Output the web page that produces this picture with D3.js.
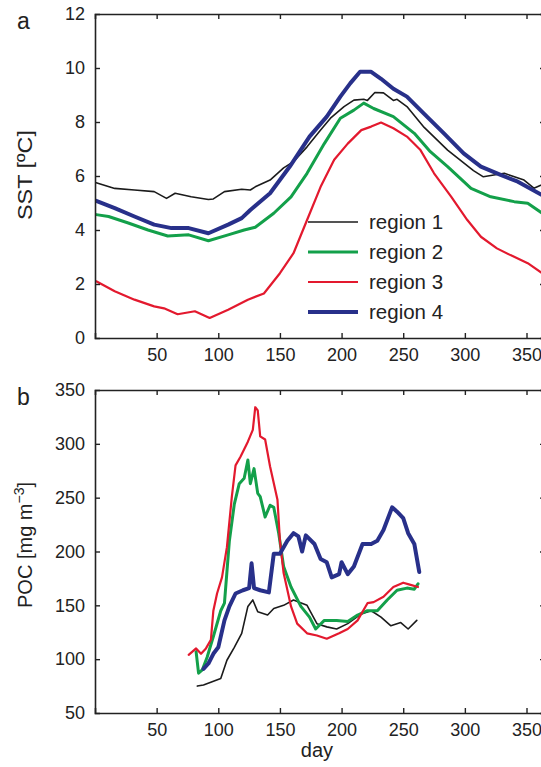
<!DOCTYPE html>
<html>
<head>
<meta charset="utf-8">
<script src="https://cdn.jsdelivr.net/npm/d3@7"></script>
<style>
html,body{margin:0;padding:0;background:#fff;}
svg{display:block;}
text{font-family:"Liberation Sans",Arial,Helvetica,sans-serif;fill:#222;}
</style>
</head>
<body>
<svg id="chart" width="541" height="767"></svg>
<script>
// ---------- DATA ----------
const xTicks = [50,100,150,200,250,300,350];
const sstTicks = [0,2,4,6,8,10,12];
const pocTicks = [50,100,150,200,250,300,350];
const seriesNames = ["region 1","region 2","region 3","region 4"];

// SST (panel a): [day, °C]
const sst1 = [[1,5.75],[16,5.54],[32,5.48],[48,5.42],[58,5.17],[65,5.36],[78,5.23],[92,5.13],[96,5.15],[105,5.42],[119,5.51],[126,5.48],[130,5.6],[142,5.85],[153,6.3],[161,6.53],[172,7.08],[183,7.7],[191,8.14],[202,8.57],[210,8.81],[218,8.84],[221,8.8],[227,9.09],[234,9.08],[242,8.8],[245,8.84],[253,8.57],[267,7.8],[286,6.96],[307,6.2],[315,5.97],[332,6.1],[348,5.85],[356,5.55],[365,5.73]];
const sst2 = [[1,4.57],[11,4.5],[27,4.26],[43,4.0],[59,3.78],[76,3.82],[92,3.6],[108,3.82],[121,4.0],[130,4.1],[145,4.62],[159,5.23],[172,6.1],[186,7.2],[199,8.14],[210,8.44],[218,8.7],[226,8.5],[242,8.2],[259,7.58],[272,6.9],[286,6.35],[305,5.54],[321,5.23],[340,5.05],[351,4.99],[365,4.55]];
const sst3 = [[1,2.1],[16,1.73],[32,1.42],[48,1.17],[56,1.1],[67,0.88],[81,0.99],[93,0.74],[108,1.05],[124,1.42],[137,1.65],[150,2.4],[161,3.14],[172,4.37],[183,5.6],[194,6.6],[205,7.2],[216,7.7],[224,7.83],[232,7.98],[242,7.77],[253,7.46],[264,6.96],[275,6.1],[289,5.23],[302,4.37],[313,3.75],[326,3.32],[337,3.07],[351,2.77],[365,2.33]];
const sst4 = [[1,5.08],[16,4.81],[32,4.5],[48,4.2],[62,4.07],[76,4.07],[92,3.88],[108,4.2],[119,4.44],[126,4.74],[142,5.36],[158,6.35],[174,7.46],[188,8.2],[199,8.94],[207,9.43],[215,9.86],[224,9.86],[232,9.6],[242,9.23],[253,8.94],[267,8.3],[283,7.58],[299,6.84],[313,6.35],[329,6.04],[343,5.79],[365,5.23]];

// POC (panel b): [day, mg m^-3]
const poc1 = [[83,75],[88,76],[95,79],[102,82],[107,99],[113,111],[119,124],[124,149],[128,155],[132,144],[140,141],[145,147],[153,150],[161,155],[172,150],[180,133],[188,130],[196,128],[205,133],[216,142],[224,145],[232,139],[240,131],[248,134],[254,128],[261,136]];
const poc2 = [[82,107],[84,87],[87,90],[91,102],[96,121],[102,145],[105,152],[109,210],[113,244],[117,263],[121,268],[124,285],[126,263],[129,277],[132,254],[134,251],[138,232],[142,243],[145,241],[149,217],[153,186],[159,167],[167,149],[174,139],[179,128],[186,136],[196,136],[205,135],[213,141],[221,145],[229,145],[237,155],[245,164],[253,166],[259,165],[262,170]];
const poc3 = [[76,104],[82,110],[86,105],[90,110],[94,118],[96,145],[99,161],[103,176],[107,204],[111,251],[114,280],[118,288],[124,302],[128,313],[130,334],[132,331],[134,307],[138,304],[142,279],[148,248],[150,210],[153,180],[159,149],[164,133],[172,124],[180,122],[188,119],[198,124],[205,128],[213,136],[221,152],[226,153],[234,158],[242,167],[250,171],[256,169],[262,167]];
const poc4 = [[88,91],[92,96],[96,105],[100,111],[105,136],[109,149],[114,161],[120,164],[125,166],[127,189],[129,166],[134,164],[141,162],[145,198],[150,198],[156,210],[161,217],[165,214],[168,200],[171,215],[178,207],[183,193],[188,190],[192,176],[198,179],[200,190],[205,179],[210,186],[217,207],[224,207],[229,210],[234,220],[241,241],[245,237],[250,231],[254,217],[259,207],[263,181]];

const colors = ["#1b1b1b","#13a04a","#e3192e","#28308a"];
const widths = [1.6,3,2.2,4];

// ---------- LAYOUT ----------
const svg = d3.select("#chart");
const X0 = 95, X1 = 545;
const x = d3.scaleLinear().domain([0,365]).range([X0,X1]);
const panels = [
  {top:14, bottom:338, domain:[0,12], ticks:sstTicks, data:[sst1,sst2,sst3,sst4], label:"a"},
  {top:390, bottom:713, domain:[50,350], ticks:pocTicks, data:[poc1,poc2,poc3,poc4], label:"b"}
];

panels.forEach((p,pi) => {
  const y = d3.scaleLinear().domain(p.domain).range([p.bottom,p.top]);
  const g = svg.append("g");
  const clipId = "clip"+pi;
  svg.append("clipPath").attr("id",clipId).append("rect")
    .attr("x",X0).attr("y",p.top).attr("width",X1-X0).attr("height",p.bottom-p.top);

  const line = d3.line().x(d=>x(d[0])).y(d=>y(d[1]));
  const lg = g.append("g").attr("clip-path",`url(#${clipId})`);
  p.data.forEach((s,i) => {
    lg.append("path").datum(s).attr("d",line)
      .attr("fill","none").attr("stroke",colors[i]).attr("stroke-width",widths[i])
      .attr("stroke-linejoin","round").attr("stroke-linecap","round");
  });

  const tl = 5;
  const left = d3.axisLeft(y).tickValues(p.ticks).tickSize(-tl).tickPadding(10).tickFormat(d3.format("d"));
  const right = d3.axisRight(y).tickValues(p.ticks).tickSize(-tl).tickFormat("");
  const bottom = d3.axisBottom(x).tickValues(xTicks).tickSize(-tl).tickPadding(10).tickFormat(d3.format("d"));
  const topAx = d3.axisTop(x).tickValues(xTicks).tickSize(-tl).tickFormat("");
  const ax = [
    g.append("g").attr("transform",`translate(${X0},0)`).call(left),
    g.append("g").attr("transform",`translate(${X1},0)`).call(right),
    g.append("g").attr("transform",`translate(0,${p.bottom})`).call(bottom),
    g.append("g").attr("transform",`translate(0,${p.top})`).call(topAx)
  ];
  ax.forEach(a => {
    a.select(".domain").attr("stroke","#222").attr("stroke-width",1.6);
    a.selectAll(".tick line").attr("stroke","#222").attr("stroke-width",1.4);
    a.selectAll(".tick text").attr("font-size",18).attr("fill","#222")
      .style("font-family","'Liberation Sans',Arial,sans-serif");
  });
  ax[0].selectAll(".tick line").filter(d => d===p.domain[0]||d===p.domain[1]).remove();
  ax[1].selectAll(".tick line").filter(d => d===p.domain[0]||d===p.domain[1]).remove();

  svg.append("text").attr("x",17).attr("y",p.top+15).attr("font-size",23).text(p.label);
});

// axis titles
svg.append("text").attr("transform","translate(32,175) rotate(-90)")
  .attr("text-anchor","middle").attr("font-size",20)
  .attr("textLength",90).attr("lengthAdjust","spacingAndGlyphs").text("SST [ºC]");
const poc = svg.append("text").attr("transform","translate(32,545) rotate(-90)")
  .attr("text-anchor","middle").attr("font-size",20);
poc.append("tspan").text("POC [mg m");
poc.append("tspan").attr("dy",-8).attr("font-size",14).text("−3");
poc.append("tspan").attr("dy",8).text("]");
svg.append("text").attr("x",x(180)).attr("y",757).attr("text-anchor","middle").attr("font-size",20).text("day");

// legend
const leg = svg.append("g").attr("transform","translate(308,222)");
seriesNames.forEach((n,i) => {
  const gy = i*30;
  leg.append("line").attr("x1",0).attr("x2",50).attr("y1",gy).attr("y2",gy)
    .attr("stroke",colors[i]).attr("stroke-width",widths[i]);
  leg.append("text").attr("x",61).attr("y",gy).attr("dy","0.36em").attr("font-size",20.5).text(n);
});
</script>
</body>
</html>
